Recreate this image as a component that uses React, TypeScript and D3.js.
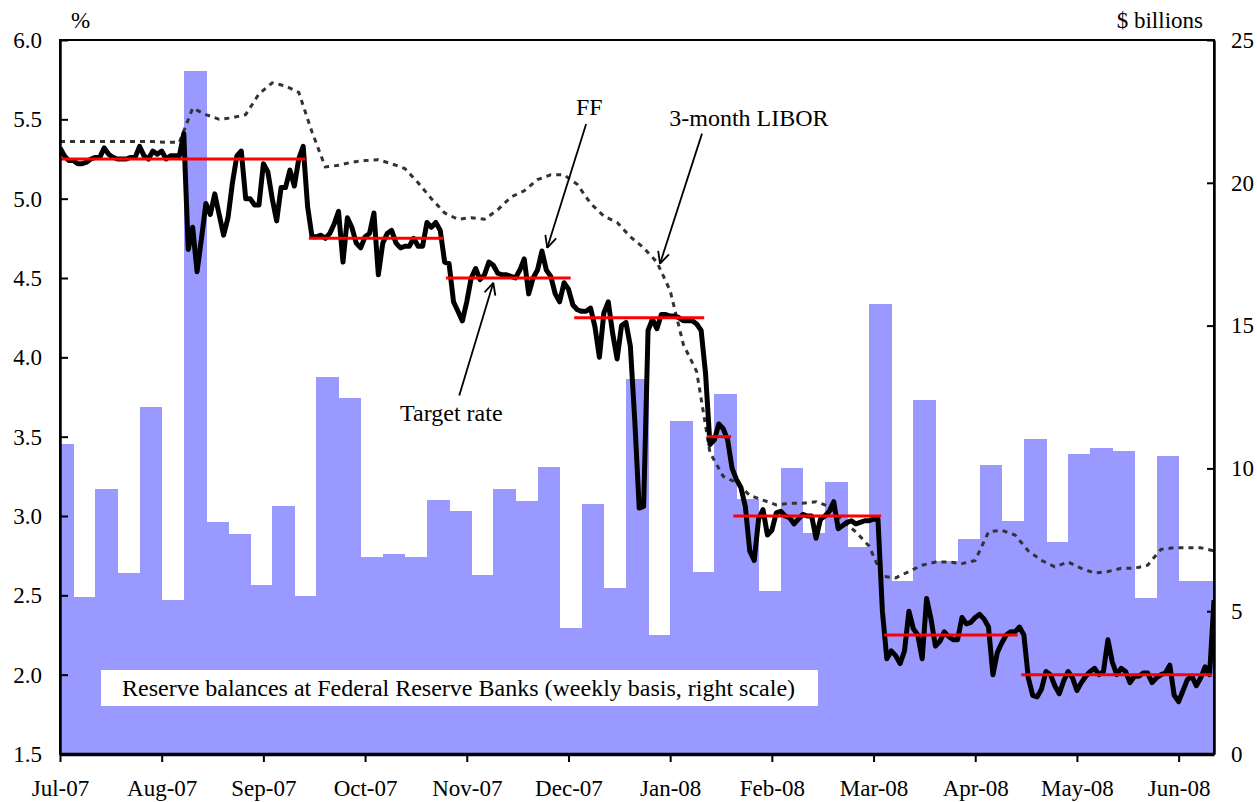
import React, { useEffect, useRef } from "react";
import * as d3 from "d3";

// business-day axis, one tick every 23 trading days
const monthLabels = ["Jul-07", "Aug-07", "Sep-07", "Oct-07", "Nov-07", "Dec-07",
  "Jan-08", "Feb-08", "Mar-08", "Apr-08", "May-08", "Jun-08"];
const daysPerTick = 23;
const lastDay = 261;

// effective federal funds rate, daily (%)
const fedFunds = [
  5.32, 5.27, 5.24, 5.24, 5.22, 5.22, 5.23, 5.25, 5.26, 5.26,
  5.32, 5.28, 5.26, 5.25, 5.25, 5.25, 5.26, 5.26, 5.33, 5.27,
  5.25, 5.30, 5.28, 5.30, 5.25, 5.27, 5.27, 5.27, 5.41, 4.68,
  4.82, 4.54, 4.75, 4.97, 4.90, 5.03, 4.90, 4.77, 4.88, 5.10,
  5.27, 5.30, 5.00, 5.00, 4.96, 4.96, 5.22, 5.17, 5.00, 4.86,
  5.07, 5.07, 5.18, 5.08, 5.25, 5.33, 4.95, 4.76, 4.76, 4.77,
  4.75, 4.78, 4.84, 4.92, 4.60, 4.88, 4.82, 4.72, 4.69, 4.76,
  4.78, 4.91, 4.52, 4.72, 4.78, 4.80, 4.72, 4.69, 4.70, 4.70,
  4.75, 4.70, 4.70, 4.85, 4.82, 4.85, 4.80, 4.60, 4.59, 4.35,
  4.29, 4.23, 4.35, 4.50, 4.56, 4.49, 4.52, 4.60, 4.58, 4.53,
  4.52, 4.52, 4.51, 4.50, 4.55, 4.62, 4.40, 4.50, 4.55, 4.67,
  4.55, 4.51, 4.40, 4.35, 4.47, 4.43, 4.33, 4.30, 4.29, 4.29,
  4.31, 4.19, 4.00, 4.28, 4.35, 4.15, 3.99, 4.20, 4.22, 4.07,
  3.60, 3.05, 3.06, 4.17, 4.24, 4.18, 4.27, 4.27, 4.26, 4.26,
  4.25, 4.23, 4.23, 4.23, 4.21, 4.17, 3.90, 3.45, 3.48, 3.58,
  3.55, 3.48, 3.30, 3.23, 3.18, 3.06, 2.78, 2.72, 2.98, 3.04,
  2.88, 2.91, 3.02, 3.03, 3.00, 2.99, 2.95, 2.98, 3.01, 3.00,
  3.00, 2.86, 2.98, 3.00, 3.03, 3.09, 2.92, 2.94, 2.96, 2.97,
  2.95, 2.96, 2.97, 2.97, 2.98, 2.98, 2.40, 2.10, 2.15, 2.12,
  2.07, 2.15, 2.40, 2.29, 2.25, 2.10, 2.48, 2.35, 2.18, 2.21,
  2.27, 2.24, 2.22, 2.22, 2.36, 2.32, 2.33, 2.36, 2.38, 2.35,
  2.30, 2.00, 2.14, 2.20, 2.25, 2.27, 2.27, 2.30, 2.25, 1.98,
  1.87, 1.86, 1.91, 2.02, 2.00, 1.93, 1.88, 1.96, 2.02, 1.98,
  1.90, 1.95, 1.99, 2.02, 2.04, 2.00, 2.02, 2.22, 2.08, 2.00,
  2.04, 2.02, 1.95, 1.99, 1.99, 2.01, 2.01, 1.95, 1.98, 2.00,
  2.01, 2.06, 1.87, 1.83, 1.90, 1.97, 1.99, 1.93, 1.98, 2.05,
  2.00, 2.47
];

// 3-month LIBOR, every third business day (%)
const liborStep = 3;
const libor3m = [
  5.36, 5.36, 5.36, 5.36, 5.36, 5.36, 5.36, 5.36, 5.355, 5.355,
  5.57, 5.53, 5.50, 5.51, 5.53, 5.66, 5.73, 5.71, 5.67, 5.42,
  5.20, 5.21, 5.23, 5.24, 5.245, 5.22, 5.19, 5.10, 5.00, 4.91,
  4.87, 4.88, 4.87, 4.93, 5.01, 5.05, 5.12, 5.15, 5.15, 5.09,
  4.97, 4.89, 4.85, 4.76, 4.69, 4.60, 4.42, 4.08, 3.91, 3.40,
  3.25, 3.21, 3.13, 3.10, 3.07, 3.08, 3.08, 3.09, 3.06, 2.97,
  2.90, 2.81, 2.62, 2.61, 2.65, 2.69, 2.71, 2.71, 2.70, 2.72,
  2.90, 2.91, 2.88, 2.78, 2.72, 2.68, 2.71, 2.67, 2.64, 2.65,
  2.67, 2.67, 2.69, 2.79, 2.80, 2.80, 2.80, 2.78
];

// reserve balances, weekly ($ billions)
const reserveBalances = [
  10.85, 5.50, 9.28, 6.34, 12.15, 5.39, 23.9, 8.12, 7.70, 5.92,
  8.68, 5.53, 13.2, 12.46, 6.90, 7.00, 6.91, 8.89, 8.51, 6.27,
  9.28, 8.86, 10.05, 4.42, 8.75, 5.81, 13.13, 4.17, 11.66, 6.37,
  12.6, 8.93, 5.72, 10.01, 7.74, 9.52, 7.25, 15.75, 6.06, 12.4,
  6.76, 7.52, 10.12, 8.16, 11.03, 7.42, 10.5, 10.71, 10.61, 5.46,
  10.43, 6.06, 6.06
];

// FOMC target rate segments (business-day index)
const targetRates = [5.25, 4.75, 4.5, 4.25, 3.5, 3.0, 2.25, 2.0];
const targetStart = [0, 56.3, 87.3, 116.3, 146.3, 152.3, 186.4, 217.4];
const targetEnd = [55.5, 86.7, 115.5, 145.7, 151.8, 185.7, 216.6, 260.6];

const leftTicks = [1.5, 2.0, 2.5, 3.0, 3.5, 4.0, 4.5, 5.0, 5.5, 6.0];
const rightTicks = [0, 5, 10, 15, 20, 25];

const FONT = "'Liberation Serif', 'Times New Roman', serif";

export default function App() {
  const node = useRef<SVGSVGElement>(null);

  useEffect(() => {
    document.body.style.margin = "0";
    const svg = d3.select(node.current);
    svg.selectAll("*").remove();

    const left = 60, right = 1214, top = 40, bottom = 754;
    const x = d3.scaleLinear().domain([0, lastDay]).range([left, right]);
    const yL = d3.scaleLinear().domain([1.5, 6]).range([bottom, top]);
    const yR = d3.scaleLinear().domain([0, 25]).range([bottom, top]);

    svg.append("defs").append("clipPath").attr("id", "plot")
      .append("rect").attr("x", left).attr("y", top)
      .attr("width", right - left).attr("height", bottom - top);

    const plot = svg.append("g").attr("clip-path", "url(#plot)");

    // weekly bars, 5 business days wide
    plot.selectAll(".bar")
      .data(reserveBalances)
      .enter().append("rect")
      .attr("class", "bar")
      .attr("x", (d, k) => x(Math.max(0, 5 * k - 2)))
      .attr("width", (d, k) => x(Math.min(lastDay, 5 * k + 3)) - x(Math.max(0, 5 * k - 2)) + 0.6)
      .attr("y", d => yR(d))
      .attr("height", d => yR(0) - yR(d))
      .attr("fill", "#9999ff")
      .attr("shape-rendering", "crispEdges");

    // legend box
    svg.append("rect").attr("x", 101).attr("y", 670).attr("width", 717).attr("height", 36)
      .attr("fill", "#fff");
    svg.append("text").attr("x", 122).attr("y", 696)
      .style("font-size", "24px").style("font-family", FONT)
      .text("Reserve balances at Federal Reserve Banks (weekly basis, right scale)");

    const liborLine = d3.line<number>()
      .x((d, i) => x(i * liborStep))
      .y(d => yL(d));
    plot.append("path").datum(libor3m)
      .attr("d", liborLine)
      .attr("fill", "none").attr("stroke", "#333")
      .attr("stroke-width", 3).attr("stroke-dasharray", "5,5");

    const ffLine = d3.line<number>()
      .x((d, i) => x(i))
      .y(d => yL(d));
    plot.append("path").datum(fedFunds)
      .attr("d", ffLine)
      .attr("fill", "none").attr("stroke", "#000")
      .attr("stroke-width", 5).attr("stroke-linejoin", "round");

    plot.selectAll(".target")
      .data(targetRates)
      .enter().append("line")
      .attr("x1", (d, i) => x(targetStart[i]))
      .attr("x2", (d, i) => x(targetEnd[i]))
      .attr("y1", d => yL(d)).attr("y2", d => yL(d))
      .attr("stroke", "#ff0000").attr("stroke-width", 3);

    // annotations (in data coordinates)
    const notes = [
      { label: "FF", tx: 119.7, ty: 5.53, anchor: "middle", from: [119, 5.47], to: [110.2, 4.69] },
      { label: "3-month LIBOR", tx: 137.8, ty: 5.46, anchor: "start", from: [145.2, 5.41], to: [135.7, 4.59] },
      { label: "Target rate", tx: 88.5, ty: 3.6, anchor: "middle", from: [90.3, 3.76], to: [98, 4.47] }
    ];
    notes.forEach(n => {
      svg.append("text").attr("x", x(n.tx)).attr("y", yL(n.ty))
        .attr("text-anchor", n.anchor)
        .style("font-size", "24px").style("font-family", FONT)
        .text(n.label);
      const x1 = x(n.from[0]), y1 = yL(n.from[1]), x2 = x(n.to[0]), y2 = yL(n.to[1]);
      svg.append("line").attr("x1", x1).attr("y1", y1).attr("x2", x2).attr("y2", y2)
        .attr("stroke", "#000").attr("stroke-width", 1.8);
      const ang = Math.atan2(y1 - y2, x1 - x2);
      [-0.45, 0.45].forEach(a => {
        svg.append("line").attr("x1", x2).attr("y1", y2)
          .attr("x2", x2 + 13 * Math.cos(ang + a)).attr("y2", y2 + 13 * Math.sin(ang + a))
          .attr("stroke", "#000").attr("stroke-width", 1.8);
      });
    });

    // frame
    svg.append("rect").attr("x", left).attr("y", top)
      .attr("width", right - left).attr("height", bottom - top)
      .attr("fill", "none").attr("stroke", "#000").attr("stroke-width", 2);

    const gl = svg.append("g").attr("transform", `translate(${left},0)`)
      .call(d3.axisLeft(yL).tickValues(leftTicks).tickFormat(d3.format(".1f"))
        .tickSize(-8).tickSizeOuter(0).tickPadding(18));
    const gr = svg.append("g").attr("transform", `translate(${right},0)`)
      .call(d3.axisRight(yR).tickValues(rightTicks).tickFormat(d3.format("d"))
        .tickSize(-7).tickSizeOuter(0).tickPadding(17));
    const gb = svg.append("g").attr("transform", `translate(0,${bottom})`)
      .call(d3.axisBottom(x).tickValues(monthLabels.map((m, i) => i * daysPerTick))
        .tickFormat((d, i) => monthLabels[i]).tickSize(8).tickSizeOuter(0).tickPadding(18));

    [gl, gr, gb].forEach(g => {
      g.selectAll("text").style("font-size", "23px").style("font-family", FONT).attr("fill", "#000");
      g.selectAll("line").attr("stroke", "#000").attr("stroke-width", 2);
      g.select(".domain").attr("stroke", "#000").attr("stroke-width", 2.5);
    });
    gb.select(".domain").attr("stroke-width", 3.5);

    svg.append("text").attr("x", 71).attr("y", 28)
      .style("font-size", "23px").style("font-family", FONT).text("%");
    svg.append("text").attr("x", 1203).attr("y", 28).attr("text-anchor", "end")
      .style("font-size", "23px").style("font-family", FONT).text("$ billions");
  }, []);

  return (
    <svg ref={node} width={1257} height={802} style={{ display: "block", background: "#fff" }}>
    </svg>
  );
}
